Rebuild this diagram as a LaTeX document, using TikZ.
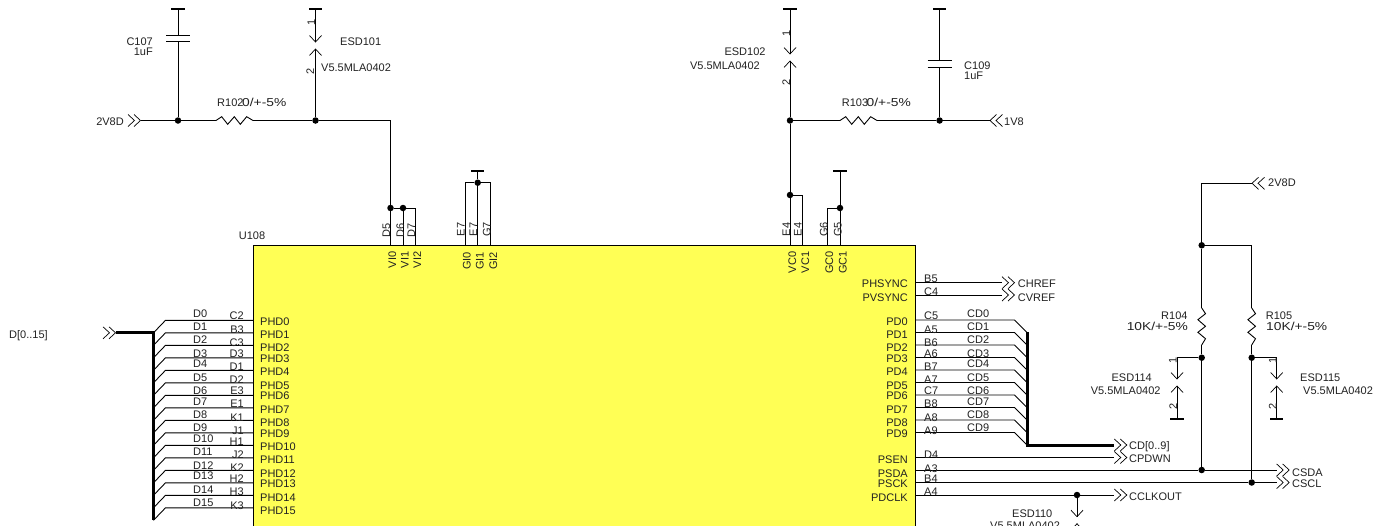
\documentclass[tikz,border=0pt]{standalone}
\usepackage{fontspec}
\setmainfont{Liberation Sans}
\newfontfamily\widefont[FakeStretch=1.2]{Liberation Sans}
\definecolor{chipyellow}{HTML}{FFFF55}
\definecolor{inkgrey}{HTML}{222222}
\tikzset{
  wire/.style={draw=black, line width=0.9pt, line join=miter},
  chevwire/.style={draw=black, line width=0.7pt, line join=miter},
  buswire/.style={draw=black, line width=3pt},
  junc/.style={circle, fill=black, inner sep=0pt, minimum size=6.5pt},
  gndbar/.style={rectangle, fill=black, inner sep=0pt, minimum width=13.5pt, minimum height=2pt},
  chipbox/.style={rectangle, draw=black, line width=0.9pt, fill=chipyellow, inner sep=0pt},
  lbl/.style={font=\fontsize{11}{11}\selectfont, text=inkgrey, inner sep=0pt, text height=8pt, text depth=0pt},
  lblw/.style={lbl, font=\fontsize{11.5}{11.5}\widefont},
  vlbl/.style={lbl, rotate=90},
  chevr/.pic={
    \draw[chevwire] (0,-6) -- (6.5,0) -- (0,6) (6,-6) -- (12.5,0) -- (6,6);
    \coordinate (-base) at (0,0);
    \coordinate (-tip) at (12.5,0);
  },
  chevl/.pic={
    \draw[chevwire] (6.5,-6) -- (0,0) -- (6.5,6) (12.5,-6) -- (6,0) -- (12.5,6);
    \coordinate (-tip) at (0,0);
  },
  resist/.pic={
    \draw[wire] (0,0) -- (5.7,-3.8) -- (11.7,3.8) -- (18.3,-3.8) -- (24.3,3.8) -- (30.7,-3.8) -- (37,0);
    \coordinate (-a) at (0,0);
    \coordinate (-b) at (37,0);
  },
  esdgap/.pic={
    \draw[chevwire] (-6,-6.5) -- (0,0) -- (6,-6.5) (-6,13.5) -- (0,7) -- (6,13.5);
    \coordinate (-top) at (0,0);
    \coordinate (-bot) at (0,7);
  },
  capgap/.pic={
    \draw[wire, line width=1.2pt] (-12,0) -- (12,0) (-12,6.5) -- (12,6.5);
    \coordinate (-top) at (0,0);
    \coordinate (-bot) at (0,6.5);
  }
}
\begin{document}
\begin{tikzpicture}[x=1pt, y=-1pt]
  \clip (0,0) rectangle (1382,525);
  \fill[white] (0,0) rectangle (1382,525);
  % chip
  \node[chipbox, minimum width=662pt, minimum height=315pt] (u108) at (584,402.5) {};
  \node[lbl, anchor=west] (u108txt) at (238.7,235) {U108};

  % left top, 2V8D in
  \node[gndbar] (gnd107) at (178,9) {};
  \pic (c107) at (178,35.3) {capgap};
  \pic (vin) at (128,120.5) {chevr};
  \pic (r102) at (216,120.5) {resist};
  \node[junc] (jc107) at (178,120.5) {};
  \node[junc] (jesd101) at (315.5,120.5) {};
  \node[gndbar] (gnd101) at (315.5,9) {};
  \pic (esd101) at (315.5,42) {esdgap};
  \coordinate (corn102) at (390.5,120.5);
  \node[junc] (jvi0) at (390.5,208) {};
  \node[junc] (jvi1) at (403,208) {};
  \coordinate (corn103) at (415.5,208);
  \coordinate (vi0) at (390.5,245);
  \coordinate (vi1) at (403,245);
  \coordinate (vi2) at (415.5,245);
  \draw[wire] (gnd107) -- (c107-top);
  \draw[wire] (c107-bot) -- (jc107);
  \draw[wire] (vin-tip) -- (jc107);
  \draw[wire] (jc107) -- (r102-a);
  \draw[wire] (r102-b) -- (jesd101);
  \draw[wire] (gnd101) -- (esd101-top);
  \draw[wire] (esd101-bot) -- (jesd101);
  \draw[wire] (jesd101) -- (corn102) -- (jvi0);
  \draw[wire] (jvi0) -- (vi0);
  \draw[wire] (jvi0) -- (jvi1);
  \draw[wire] (jvi1) -- (vi1);
  \draw[wire] (jvi1) -- (corn103) -- (vi2);
  \node[lbl, anchor=east] (c107txt) at (153,41) {C107};
  \node[lbl, anchor=east] (c107val) at (153,51) {1uF};
  \node[lbl, anchor=east] (vintxt) at (124,121) {2V8D};
  \node[lbl, anchor=west] (r102txt) at (217,102) {R102};
  \node[lblw, anchor=west] (r102val) at (242,102) {0/+-5\%};
  \node[lbl, anchor=west] (esd101txt) at (340,41) {ESD101};
  \node[lbl, anchor=west] (esd101val) at (321,67) {V5.5MLA0402};
  \node[vlbl] (esd101p1) at (311,22) {1};
  \node[vlbl] (esd101p2) at (310,71) {2};
  \node[vlbl] (d5txt) at (386,230) {D5};
  \node[vlbl] (d6txt) at (400,230) {D6};
  \node[vlbl] (d7txt) at (411,230) {D7};
  \node[vlbl] (vi0txt) at (392,260) {VI0};
  \node[vlbl] (vi1txt) at (404.5,260) {VI1};
  \node[vlbl] (vi2txt) at (417,260) {VI2};

  % GI pins
  \node[gndbar] (gndgi) at (477.7,171) {};
  \node[junc] (jgi) at (477.7,182.7) {};
  \coordinate (corngi0) at (465.7,182.7);
  \coordinate (corngi2) at (490.3,182.7);
  \coordinate (gi0) at (465.7,245);
  \coordinate (gi1) at (477.7,245);
  \coordinate (gi2) at (490.3,245);
  \draw[wire] (gndgi) -- (jgi);
  \draw[wire] (jgi) -- (gi1);
  \draw[wire] (jgi) -- (corngi0) -- (gi0);
  \draw[wire] (jgi) -- (corngi2) -- (gi2);
  \node[vlbl] (e7atxt) at (460.7,229.5) {E7};
  \node[vlbl] (e7btxt) at (473,229.5) {E7};
  \node[vlbl] (g7txt) at (486.7,229.5) {G7};
  \node[vlbl] (gi0txt) at (466.7,261) {GI0};
  \node[vlbl] (gi1txt) at (479.5,261) {GI1};
  \node[vlbl] (gi2txt) at (493,261) {GI2};

  % right top, 1V8 in
  \node[gndbar] (gnd102) at (790,9) {};
  \pic (esd102) at (790,54) {esdgap};
  \node[junc] (jr103) at (790,120.5) {};
  \node[junc] (jvc0) at (790,195) {};
  \coordinate (vc0) at (790,245);
  \coordinate (corn104) at (802.7,195);
  \coordinate (vc1) at (802.7,245);
  \pic (r103) at (840,120.5) {resist};
  \node[junc] (jc109) at (939.6,120.5) {};
  \node[gndbar] (gnd109) at (939.6,9) {};
  \pic (c109) at (939.6,60.7) {capgap};
  \pic (v18) at (990,120.5) {chevl};
  \node[gndbar] (gndgc) at (840,171) {};
  \node[junc] (jgc) at (840,208) {};
  \coordinate (gc1) at (840,245);
  \coordinate (corn105) at (827.5,208);
  \coordinate (gc0) at (827.5,245);
  \draw[wire] (gnd102) -- (esd102-top);
  \draw[wire] (esd102-bot) -- (jr103);
  \draw[wire] (jr103) -- (jvc0);
  \draw[wire] (jvc0) -- (vc0);
  \draw[wire] (jvc0) -- (corn104) -- (vc1);
  \draw[wire] (jr103) -- (r103-a);
  \draw[wire] (r103-b) -- (jc109);
  \draw[wire] (jc109) -- (v18-tip);
  \draw[wire] (gnd109) -- (c109-top);
  \draw[wire] (c109-bot) -- (jc109);
  \draw[wire] (gndgc) -- (jgc);
  \draw[wire] (jgc) -- (gc1);
  \draw[wire] (jgc) -- (corn105) -- (gc0);
  \node[lbl, anchor=east] (esd102txt) at (765.7,51) {ESD102};
  \node[lbl, anchor=east] (esd102val) at (760,65) {V5.5MLA0402};
  \node[vlbl] (esd102p1) at (786,33) {1};
  \node[vlbl] (esd102p2) at (786,82) {2};
  \node[lbl, anchor=west] (r103txt) at (841.7,102) {R103};
  \node[lblw, anchor=west] (r103val) at (866.5,102) {0/+-5\%};
  \node[lbl, anchor=west] (c109txt) at (964,65) {C109};
  \node[lbl, anchor=west] (c109val) at (964,75) {1uF};
  \node[lbl, anchor=west] (v18txt) at (1004,121) {1V8};
  \node[vlbl] (e4atxt) at (786,229.5) {E4};
  \node[vlbl] (e4btxt) at (797.7,229.5) {E4};
  \node[vlbl] (g6txt) at (823.7,229.5) {G6};
  \node[vlbl] (g5txt) at (837.7,229.5) {G5};
  \node[vlbl] (vc0txt) at (792,262.5) {VC0};
  \node[vlbl] (vc1txt) at (805,262.5) {VC1};
  \node[vlbl] (gc0txt) at (829,262.5) {GC0};
  \node[vlbl] (gc1txt) at (842.7,262.5) {GC1};

  % left bus
  \pic (dbus) at (103,332.8) {chevr};
  \coordinate (dbustop) at (153.5,332.8);
  \coordinate (dbusend) at (153.5,520);
  \draw[buswire] (dbus-tip) -- (dbustop) -- (dbusend);
  \node[lbl, anchor=west] (dbustxt) at (9,334) {D[0..15]};
  \coordinate (phd0) at (253,320.3); \coordinate (ent0) at (165.5,320.3); \draw[wire] (phd0) -- (ent0) -- ++(-12,12.5);
  \coordinate (phd1) at (253,332.8); \coordinate (ent1) at (165.5,332.8); \draw[wire] (phd1) -- (ent1) -- ++(-12,12.5);
  \coordinate (phd2) at (253,345.3); \coordinate (ent2) at (165.5,345.3); \draw[wire] (phd2) -- (ent2) -- ++(-12,12.5);
  \coordinate (phd3) at (253,357.8); \coordinate (ent3) at (165.5,357.8); \draw[wire] (phd3) -- (ent3) -- ++(-12,12.5);
  \coordinate (phd4) at (253,370.3); \coordinate (ent4) at (165.5,370.3); \draw[wire] (phd4) -- (ent4) -- ++(-12,12.5);
  \coordinate (phd5) at (253,382.8); \coordinate (ent5) at (165.5,382.8); \draw[wire] (phd5) -- (ent5) -- ++(-12,12.5);
  \coordinate (phd6) at (253,395.3); \coordinate (ent6) at (165.5,395.3); \draw[wire] (phd6) -- (ent6) -- ++(-12,12.5);
  \coordinate (phd7) at (253,407.8); \coordinate (ent7) at (165.5,407.8); \draw[wire] (phd7) -- (ent7) -- ++(-12,12.5);
  \coordinate (phd8) at (253,420.3); \coordinate (ent8) at (165.5,420.3); \draw[wire] (phd8) -- (ent8) -- ++(-12,12.5);
  \coordinate (phd9) at (253,432.8); \coordinate (ent9) at (165.5,432.8); \draw[wire] (phd9) -- (ent9) -- ++(-12,12.5);
  \coordinate (phd10) at (253,445.3); \coordinate (ent10) at (165.5,445.3); \draw[wire] (phd10) -- (ent10) -- ++(-12,12.5);
  \coordinate (phd11) at (253,457.8); \coordinate (ent11) at (165.5,457.8); \draw[wire] (phd11) -- (ent11) -- ++(-12,12.5);
  \coordinate (phd12) at (253,470.3); \coordinate (ent12) at (165.5,470.3); \draw[wire] (phd12) -- (ent12) -- ++(-12,12.5);
  \coordinate (phd13) at (253,482.8); \coordinate (ent13) at (165.5,482.8); \draw[wire] (phd13) -- (ent13) -- ++(-12,12.5);
  \coordinate (phd14) at (253,495.3); \coordinate (ent14) at (165.5,495.3); \draw[wire] (phd14) -- (ent14) -- ++(-12,12.5);
  \coordinate (phd15) at (253,507.8); \coordinate (ent15) at (165.5,507.8); \draw[wire] (phd15) -- (ent15) -- ++(-12,12.5);
  % net names
  \node[lbl, anchor=west] (net0) at (193,313) {D0};
  \node[lbl, anchor=west] (net1) at (193,326) {D1};
  \node[lbl, anchor=west] (net2) at (193,339) {D2};
  \node[lbl, anchor=west] (net3) at (193,353) {D3};
  \node[lbl, anchor=west] (net4) at (193,363) {D4};
  \node[lbl, anchor=west] (net5) at (193,377) {D5};
  \node[lbl, anchor=west] (net6) at (193,390) {D6};
  \node[lbl, anchor=west] (net7) at (193,401) {D7};
  \node[lbl, anchor=west] (net8) at (193,414) {D8};
  \node[lbl, anchor=west] (net9) at (193,427) {D9};
  \node[lbl, anchor=west] (net10) at (193,438) {D10};
  \node[lbl, anchor=west] (net11) at (193,451) {D11};
  \node[lbl, anchor=west] (net12) at (193,465) {D12};
  \node[lbl, anchor=west] (net13) at (193,475) {D13};
  \node[lbl, anchor=west] (net14) at (193,489) {D14};
  \node[lbl, anchor=west] (net15) at (193,502) {D15};
  % ball names
  \node[lbl, anchor=east] (ball0) at (244,315) {C2};
  \node[lbl, anchor=east] (ball1) at (244,329) {B3};
  \node[lbl, anchor=east] (ball2) at (244,342) {C3};
  \node[lbl, anchor=east] (ball3) at (244,353) {D3};
  \node[lbl, anchor=east] (ball4) at (244,366) {D1};
  \node[lbl, anchor=east] (ball5) at (244,379) {D2};
  \node[lbl, anchor=east] (ball6) at (244,390) {E3};
  \node[lbl, anchor=east] (ball7) at (244,403) {E1};
  \node[lbl, anchor=east] (ball8) at (244,417) {K1};
  \node[lbl, anchor=east] (ball9) at (244,430) {J1};
  \node[lbl, anchor=east] (ball10) at (244,441) {H1};
  \node[lbl, anchor=east] (ball11) at (244,454) {J2};
  \node[lbl, anchor=east] (ball12) at (244,467) {K2};
  \node[lbl, anchor=east] (ball13) at (244,478) {H2};
  \node[lbl, anchor=east] (ball14) at (244,491) {H3};
  \node[lbl, anchor=east] (ball15) at (244,505) {K3};
  % chip pins left
  \node[lbl, anchor=west] (pin0) at (260,321) {PHD0};
  \node[lbl, anchor=west] (pin1) at (260,334) {PHD1};
  \node[lbl, anchor=west] (pin2) at (260,347) {PHD2};
  \node[lbl, anchor=west] (pin3) at (260,358) {PHD3};
  \node[lbl, anchor=west] (pin4) at (260,371) {PHD4};
  \node[lbl, anchor=west] (pin5) at (260,385) {PHD5};
  \node[lbl, anchor=west] (pin6) at (260,395) {PHD6};
  \node[lbl, anchor=west] (pin7) at (260,409) {PHD7};
  \node[lbl, anchor=west] (pin8) at (260,422) {PHD8};
  \node[lbl, anchor=west] (pin9) at (260,433) {PHD9};
  \node[lbl, anchor=west] (pin10) at (260,446) {PHD10};
  \node[lbl, anchor=west] (pin11) at (260,459) {PHD11};
  \node[lbl, anchor=west] (pin12) at (260,473) {PHD12};
  \node[lbl, anchor=west] (pin13) at (260,483) {PHD13};
  \node[lbl, anchor=west] (pin14) at (260,497) {PHD14};
  \node[lbl, anchor=west] (pin15) at (260,510) {PHD15};

  % sync lines
  \coordinate (phs) at (915,282.7);
  \coordinate (pvs) at (915,295);
  \pic (chref) at (1002,282.7) {chevr};
  \pic (cvref) at (1002,295) {chevr};
  \draw[wire] (phs) -- (chref-base);
  \draw[wire] (pvs) -- (cvref-base);
  \node[lbl, anchor=east] (phstxt) at (908,283) {PHSYNC};
  \node[lbl, anchor=east] (pvstxt) at (908,297) {PVSYNC};
  \node[lbl, anchor=west] (b5txt) at (924,278) {B5};
  \node[lbl, anchor=west] (c4txt) at (924,291) {C4};
  \node[lbl, anchor=west] (chreftxt) at (1017.7,283) {CHREF};
  \node[lbl, anchor=west] (cvreftxt) at (1017.7,297) {CVREF};

  % right bus
  \pic (cdbus) at (1114.3,445) {chevr};
  \coordinate (cdtop) at (1027.5,332);
  \coordinate (cdcorn) at (1027.5,445);
  \draw[buswire] (cdtop) -- (cdcorn) -- (cdbus-base);
  \node[lbl, anchor=west] (cdtxt) at (1129,445) {CD[0..9]};
  \coordinate (pd0) at (915,320); \coordinate (cent0) at (1014.5,320); \draw[wire] (pd0) -- (cent0) -- ++(12.5,12.5);
  \coordinate (pd1) at (915,332.5); \coordinate (cent1) at (1014.5,332.5); \draw[wire] (pd1) -- (cent1) -- ++(12.5,12.5);
  \coordinate (pd2) at (915,345); \coordinate (cent2) at (1014.5,345); \draw[wire] (pd2) -- (cent2) -- ++(12.5,12.5);
  \coordinate (pd3) at (915,357.5); \coordinate (cent3) at (1014.5,357.5); \draw[wire] (pd3) -- (cent3) -- ++(12.5,12.5);
  \coordinate (pd4) at (915,370); \coordinate (cent4) at (1014.5,370); \draw[wire] (pd4) -- (cent4) -- ++(12.5,12.5);
  \coordinate (pd5) at (915,382.5); \coordinate (cent5) at (1014.5,382.5); \draw[wire] (pd5) -- (cent5) -- ++(12.5,12.5);
  \coordinate (pd6) at (915,395); \coordinate (cent6) at (1014.5,395); \draw[wire] (pd6) -- (cent6) -- ++(12.5,12.5);
  \coordinate (pd7) at (915,407.5); \coordinate (cent7) at (1014.5,407.5); \draw[wire] (pd7) -- (cent7) -- ++(12.5,12.5);
  \coordinate (pd8) at (915,420); \coordinate (cent8) at (1014.5,420); \draw[wire] (pd8) -- (cent8) -- ++(12.5,12.5);
  \coordinate (pd9) at (915,432.5); \coordinate (cent9) at (1014.5,432.5); \draw[wire] (pd9) -- (cent9) -- ++(12.5,12.5);
  \node[lbl, anchor=east] (pdtxt0) at (908,321) {PD0};
  \node[lbl, anchor=east] (pdtxt1) at (908,334) {PD1};
  \node[lbl, anchor=east] (pdtxt2) at (908,347) {PD2};
  \node[lbl, anchor=east] (pdtxt3) at (908,358) {PD3};
  \node[lbl, anchor=east] (pdtxt4) at (908,371) {PD4};
  \node[lbl, anchor=east] (pdtxt5) at (908,385) {PD5};
  \node[lbl, anchor=east] (pdtxt6) at (908,395) {PD6};
  \node[lbl, anchor=east] (pdtxt7) at (908,409) {PD7};
  \node[lbl, anchor=east] (pdtxt8) at (908,422) {PD8};
  \node[lbl, anchor=east] (pdtxt9) at (908,433) {PD9};
  \node[lbl, anchor=west] (cball0) at (924,315) {C5};
  \node[lbl, anchor=west] (cball1) at (924,329) {A5};
  \node[lbl, anchor=west] (cball2) at (924,342) {B6};
  \node[lbl, anchor=west] (cball3) at (924,353) {A6};
  \node[lbl, anchor=west] (cball4) at (924,366) {B7};
  \node[lbl, anchor=west] (cball5) at (924,379) {A7};
  \node[lbl, anchor=west] (cball6) at (924,390) {C7};
  \node[lbl, anchor=west] (cball7) at (924,403) {B8};
  \node[lbl, anchor=west] (cball8) at (924,417) {A8};
  \node[lbl, anchor=west] (cball9) at (924,430) {A9};
  \node[lbl, anchor=west] (cdn0) at (967,313) {CD0};
  \node[lbl, anchor=west] (cdn1) at (967,326) {CD1};
  \node[lbl, anchor=west] (cdn2) at (967,339) {CD2};
  \node[lbl, anchor=west] (cdn3) at (967,353) {CD3};
  \node[lbl, anchor=west] (cdn4) at (967,363) {CD4};
  \node[lbl, anchor=west] (cdn5) at (967,377) {CD5};
  \node[lbl, anchor=west] (cdn6) at (967,390) {CD6};
  \node[lbl, anchor=west] (cdn7) at (967,401) {CD7};
  \node[lbl, anchor=west] (cdn8) at (967,414) {CD8};
  \node[lbl, anchor=west] (cdn9) at (967,427) {CD9};

  % control lines
  \coordinate (psen) at (915,457.5);
  \coordinate (psda) at (915,470);
  \coordinate (psck) at (915,482.5);
  \coordinate (pclk) at (915,495);
  \pic (cpdwn) at (1114.3,457.5) {chevr};
  \pic (csda) at (1276.7,470) {chevr};
  \pic (cscl) at (1276.7,482.5) {chevr};
  \pic (cclk) at (1114.3,495) {chevr};
  \node[junc] (jsda) at (1201.7,470) {};
  \node[junc] (jscl) at (1251.7,482.5) {};
  \node[junc] (jclk) at (1077,495) {};
  \pic (esd110) at (1077,516.7) {esdgap};
  \draw[wire] (psen) -- (cpdwn-base);
  \draw[wire] (psda) -- (jsda);
  \draw[wire] (jsda) -- (csda-base);
  \draw[wire] (psck) -- (jscl);
  \draw[wire] (jscl) -- (cscl-base);
  \draw[wire] (pclk) -- (jclk);
  \draw[wire] (jclk) -- (cclk-base);
  \draw[wire] (jclk) -- (esd110-top);
  \node[lbl, anchor=east] (psentxt) at (908,459) {PSEN};
  \node[lbl, anchor=east] (psdatxt) at (908,473) {PSDA};
  \node[lbl, anchor=east] (pscktxt) at (908,483) {PSCK};
  \node[lbl, anchor=east] (pclktxt) at (908,497) {PDCLK};
  \node[lbl, anchor=west] (d4txt) at (924,454) {D4};
  \node[lbl, anchor=west] (a3txt) at (924,468) {A3};
  \node[lbl, anchor=west] (b4txt) at (924,478) {B4};
  \node[lbl, anchor=west] (a4txt) at (924,491) {A4};
  \node[lbl, anchor=west] (cpdwntxt) at (1129,458) {CPDWN};
  \node[lbl, anchor=west] (csdatxt) at (1292,472.7) {CSDA};
  \node[lbl, anchor=west] (cscltxt) at (1292,483) {CSCL};
  \node[lbl, anchor=west] (cclktxt) at (1129,496) {CCLKOUT};
  \node[lbl, anchor=west] (esd110txt) at (1012,513) {ESD110};
  \node[lbl, anchor=west] (esd110val) at (990,525) {V5.5MLA0402};

  % pull ups
  \pic (vpull) at (1252,183.3) {chevl};
  \coordinate (cornpull) at (1201.7,183.3);
  \node[junc] (jpull) at (1201.7,245.3) {};
  \coordinate (corn106) at (1251.7,245.3);
  \pic[rotate=-90] (r104) at (1201.7,308) {resist};
  \pic[rotate=-90] (r105) at (1251.7,308) {resist};
  \node[junc] (jr104) at (1201.7,357.7) {};
  \node[junc] (jr105) at (1251.7,357.7) {};
  \draw[wire] (vpull-tip) -- (cornpull) -- (jpull);
  \draw[wire] (jpull) -- (corn106) -- (r105-a);
  \draw[wire] (jpull) -- (r104-a);
  \draw[wire] (r104-b) -- (jr104);
  \draw[wire] (r105-b) -- (jr105);
  \draw[wire] (jr104) -- (jsda);
  \draw[wire] (jr105) -- (jscl);
  \node[lbl, anchor=west] (vpulltxt) at (1268,182) {2V8D};
  \node[lbl, anchor=east] (r104txt) at (1187.7,315) {R104};
  \node[lblw, anchor=east] (r104val) at (1188,326) {10K/+-5\%};
  \node[lbl, anchor=west] (r105txt) at (1265.7,315) {R105};
  \node[lblw, anchor=west] (r105val) at (1266,326) {10K/+-5\%};
  % esd on i2c
  \coordinate (corn114) at (1177,357.7);
  \coordinate (corn115) at (1276.7,357.7);
  \pic (esd114) at (1177,379) {esdgap};
  \pic (esd115) at (1276.7,379) {esdgap};
  \node[gndbar] (gnd114) at (1177,419) {};
  \node[gndbar] (gnd115) at (1276.7,419) {};
  \draw[wire] (jr104) -- (corn114) -- (esd114-top);
  \draw[wire] (esd114-bot) -- (gnd114);
  \draw[wire] (jr105) -- (corn115) -- (esd115-top);
  \draw[wire] (esd115-bot) -- (gnd115);
  \node[vlbl] (esd114p1) at (1172.7,360) {1};
  \node[vlbl] (esd114p2) at (1173,406.7) {2};
  \node[vlbl] (esd115p1) at (1272.5,360) {1};
  \node[vlbl] (esd115p2) at (1272.5,406.7) {2};
  \node[lbl, anchor=east] (esd114txt) at (1152,377) {ESD114};
  \node[lbl, anchor=east] (esd114val) at (1160.7,390) {V5.5MLA0402};
  \node[lbl, anchor=west] (esd115txt) at (1300,377) {ESD115};
  \node[lbl, anchor=west] (esd115val) at (1303,390) {V5.5MLA0402};
\end{tikzpicture}
\end{document}
